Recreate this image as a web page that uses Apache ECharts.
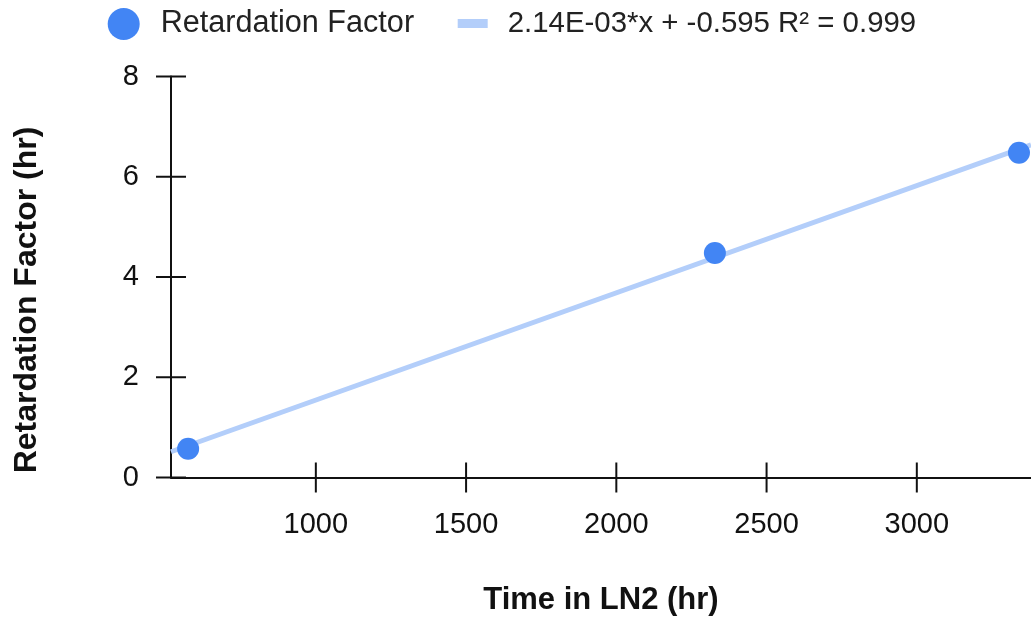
<!DOCTYPE html>
<html>
<head>
<meta charset="utf-8">
<script src="https://cdn.jsdelivr.net/npm/echarts@6/dist/echarts.min.js"></script>
<style>
html,body{margin:0;padding:0;background:#fff;}
#chart{width:1031px;height:622px;}
</style>
</head>
<body>
<div id="chart"></div>
<script>
// ---- data ----
const timeHr = [575, 2328, 3340];
const retardationHr = [0.575, 4.48, 6.48];
const trendSlope = 2.14e-3;
const trendIntercept = -0.595;
const trendLabel = '2.14E-03*x + -0.595 R\u00b2 = 0.999';
const seriesName = 'Retardation Factor';
const xTicks = [1000, 1500, 2000, 2500, 3000];
const yTicks = [0, 2, 4, 6, 8];
const xMin = 518, xMax = 3380;
const yMin = 0, yMax = 8, yStep = 2;

const FONT = "'Liberation Sans', Arial, Helvetica, sans-serif";
const BLUE = '#4285f4';
const TREND = '#b3cefa';
const INK = '#111';
const TICK_HALF = 15;

const points = timeHr.map((t, i) => [t, retardationHr[i]]);
const trendPts = [xMin, xMax].map(x => [x, trendSlope * x + trendIntercept]);

const chart = echarts.init(document.getElementById('chart'), null, {renderer: 'canvas'});

chart.setOption({
  animation: false,
  backgroundColor: '#fff',
  textStyle: {fontFamily: FONT},
  grid: {left: 171, right: 0, top: 76.5, bottom: 144.5, containLabel: false},
  legend: [
    {
      data: [{name: seriesName, icon: 'circle'}],
      left: 107.7, top: 7, padding: 0,
      itemWidth: 32, itemHeight: 32,
      textStyle: {fontFamily: FONT, fontSize: 30.6, lineHeight: 34, color: '#222', padding: [0, 0, 0, 16]},
      selectedMode: false
    },
    {
      data: [{name: trendLabel, icon: 'rect'}],
      left: 457.7, top: 6.5, padding: 0,
      itemWidth: 30, itemHeight: 9,
      textStyle: {fontFamily: FONT, fontSize: 29.4, lineHeight: 34, color: '#222', padding: [0, 0, 0, 15]},
      selectedMode: false
    }
  ],
  xAxis: {
    type: 'value', min: xMin, max: xMax,
    name: 'Time in LN2 (hr)',
    nameLocation: 'middle',
    nameGap: 107,
    nameTextStyle: {fontFamily: FONT, fontSize: 31, fontWeight: 'bold', color: INK},
    splitLine: {show: false},
    axisLine: {show: true, onZero: false, lineStyle: {color: INK, width: 2}},
    axisTick: {show: false},
    axisLabel: {show: true, customValues: xTicks, margin: 33, fontFamily: FONT, fontSize: 29, color: INK,
      formatter: v => String(v)}
  },
  yAxis: {
    type: 'value', min: yMin, max: yMax, interval: yStep,
    name: 'Retardation Factor (hr)',
    nameLocation: 'middle',
    nameGap: 128,
    nameTextStyle: {fontFamily: FONT, fontSize: 32, fontWeight: 'bold', color: INK, padding: [0, 46, 0, 0]},
    splitLine: {show: false},
    axisLine: {show: true, onZero: false, lineStyle: {color: INK, width: 2}},
    axisTick: {show: false},
    axisLabel: {show: true, margin: 32, fontFamily: FONT, fontSize: 29, color: INK, formatter: v => String(v)}
  },
  series: [
    {
      name: trendLabel,
      type: 'line',
      data: trendPts,
      showSymbol: false,
      symbol: 'none',
      lineStyle: {color: TREND, width: 5},
      itemStyle: {color: TREND},
      z: 2,
      silent: true
    },
    {
      name: seriesName,
      type: 'scatter',
      data: points,
      symbol: 'circle',
      symbolSize: 22,
      itemStyle: {color: BLUE, opacity: 1},
      z: 3
    },
    {
      name: 'xTicks',
      type: 'custom',
      data: xTicks.map(v => [v, yMin]),
      encode: {x: 0, y: 1},
      silent: true,
      z: 4,
      renderItem: (params, api) => {
        const p = api.coord([api.value(0), yMin]);
        return {type: 'line', shape: {x1: p[0], y1: p[1] - TICK_HALF, x2: p[0], y2: p[1] + TICK_HALF},
          style: {stroke: INK, lineWidth: 2}};
      }
    },
    {
      name: 'yTicks',
      type: 'custom',
      data: yTicks.map(v => [xMin, v]),
      encode: {x: 0, y: 1},
      silent: true,
      z: 4,
      renderItem: (params, api) => {
        const p = api.coord([xMin, api.value(1)]);
        return {type: 'line', shape: {x1: p[0] - TICK_HALF, y1: p[1], x2: p[0] + TICK_HALF, y2: p[1]},
          style: {stroke: INK, lineWidth: 2}};
      }
    }
  ]
});
</script>
</body>
</html>
